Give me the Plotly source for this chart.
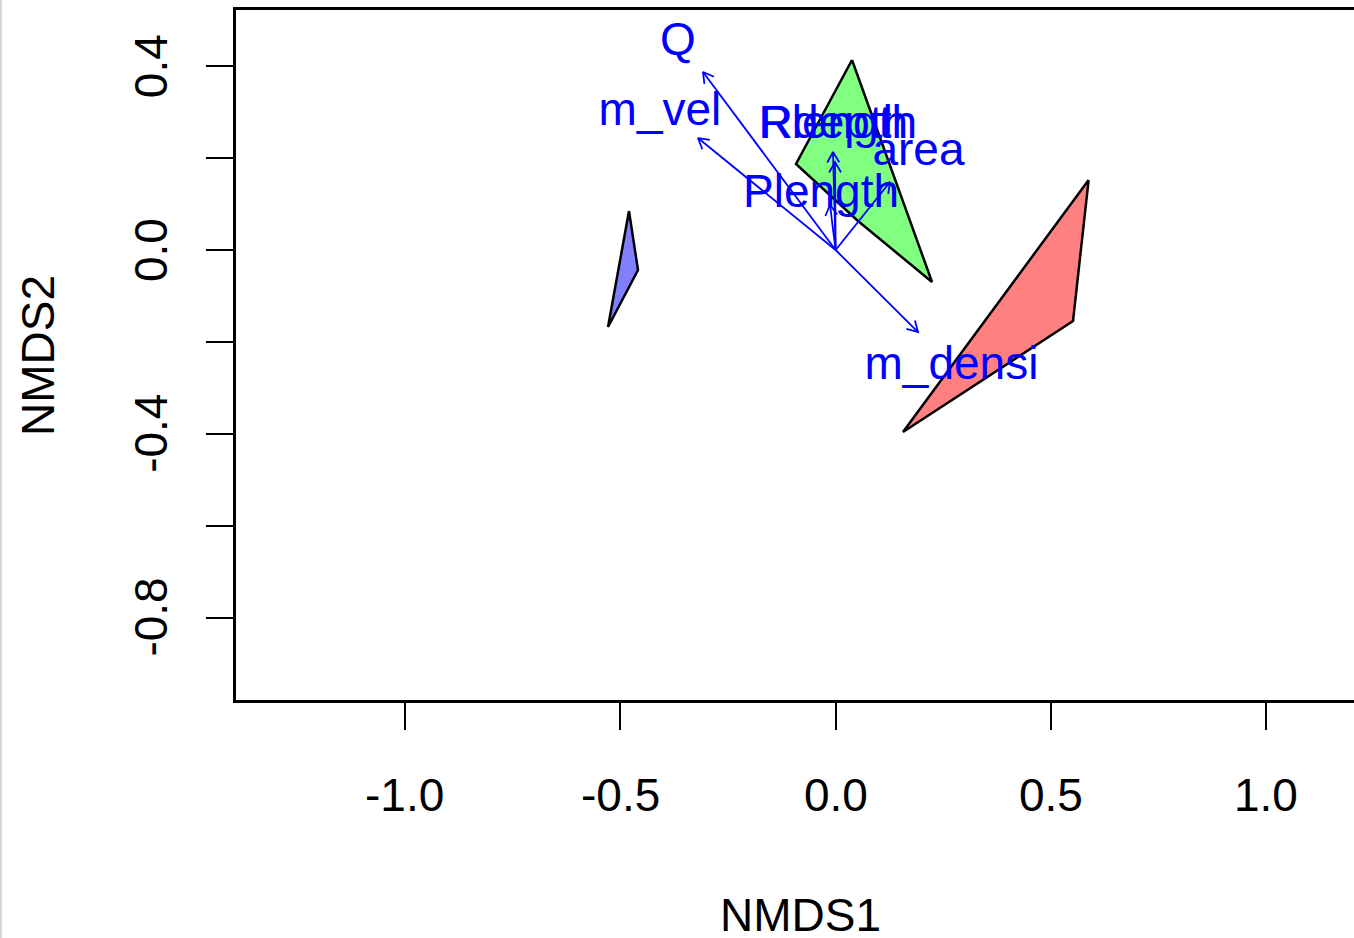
import math
import plotly.graph_objects as go

# ---------------- data ----------------
x_ticks = [-1.0, -0.5, 0.0, 0.5, 1.0]
x_tick_labels = ["-1.0", "-0.5", "0.0", "0.5", "1.0"]
y_ticks = [0.4, 0.2, 0.0, -0.2, -0.4, -0.6, -0.8]
y_tick_labels = ["0.4", "", "0.0", "", "-0.4", "", "-0.8"]

# group hulls (NMDS1, NMDS2)
hull_red_x = [0.5873, 0.5511, 0.1564]
hull_red_y = [0.1523, -0.1545, -0.3961]
hull_green_x = [0.0381, 0.2238, 0.0520, -0.0919]
hull_green_y = [0.4135, -0.0696, 0.0631, 0.1872]
hull_blue_x = [-0.4796, -0.4587, -0.5283]
hull_blue_y = [0.0849, -0.0435, -0.1676]

# fitted environmental vectors (arrow tips)
vec_names = ["Q", "m_vel", "m_densi", "area", "Rlength", "Rdepth", "Plength"]
vec_x = [-0.3078, -0.3194, 0.1913, 0.1263, -0.0060, -0.0014, -0.0130]
vec_y = [0.3874, 0.2437, -0.1785, 0.1480, 0.2133, 0.1915, 0.0980]
# label positions
lab_x = [-0.3658, -0.4077, 0.2690, 0.1924, 0.0051, -0.0037, -0.0339]
lab_y = [0.4504, 0.2969, -0.2558, 0.2099, 0.2697, 0.2697, 0.1196]

# ---------------- layout constants ----------------
W, H = 1354, 938
ML, MT, MB, MR = 236, 10, 238, 0
XR = [-1.3918, 1.2033]
YR = [-0.9793, 0.5223]
FONT = "Liberation Sans, Arial, sans-serif"
FS = 46

pw = W - ML - MR
ph = H - MT - MB
sx = pw / (XR[1] - XR[0])
sy = ph / (YR[1] - YR[0])

fig = go.Figure()

def add_hull(xs, ys, color):
    fig.add_trace(go.Scatter(
        x=xs + [xs[0]], y=ys + [ys[0]], mode="lines", fill="toself",
        fillcolor=color, line=dict(color="black", width=2.5),
        hoverinfo="skip", showlegend=False))

add_hull(hull_red_x, hull_red_y, "#FF8080")
add_hull(hull_green_x, hull_green_y, "#80FF80")
add_hull(hull_blue_x, hull_blue_y, "#8080FF")

# arrows: shaft + open head (barbs computed in pixel space)
ax_, ay_ = [], []
L = 12.0
a = math.radians(30)
for hx, hy in zip(vec_x, vec_y):
    ax_ += [0.0, hx, None]
    ay_ += [0.0, hy, None]
    th = math.atan2(hy * sy, hx * sx)
    b1x = hx - L * math.cos(th + a) / sx
    b1y = hy - L * math.sin(th + a) / sy
    b2x = hx - L * math.cos(th - a) / sx
    b2y = hy - L * math.sin(th - a) / sy
    ax_ += [b1x, hx, b2x, None]
    ay_ += [b1y, hy, b2y, None]

fig.add_trace(go.Scatter(x=ax_, y=ay_, mode="lines",
                         line=dict(color="#0000FF", width=1.8),
                         hoverinfo="skip", showlegend=False))

fig.add_trace(go.Scatter(x=lab_x, y=lab_y, mode="text", text=vec_names,
                         textposition="middle center",
                         textfont=dict(family=FONT, size=FS, color="#0000FF"),
                         hoverinfo="skip", showlegend=False, cliponaxis=False))

annotations = []
for v, t in zip(x_ticks, x_tick_labels):
    annotations.append(dict(x=v, xref="x", y=(700 - 794.5) / ph, yref="paper",
                            text=t, showarrow=False, xanchor="center", yanchor="middle",
                            font=dict(family=FONT, size=FS, color="black")))
for v, t in zip(y_ticks, y_tick_labels):
    if t:
        annotations.append(dict(x=(151 - ML) / pw, xref="paper", y=v, yref="y",
                                text=t, showarrow=False, textangle=-90,
                                xanchor="center", yanchor="middle",
                                font=dict(family=FONT, size=FS, color="black")))
annotations.append(dict(x=(800 - ML) / pw, xref="paper", y=(700 - 915) / ph, yref="paper",
                        text="NMDS1", showarrow=False, xanchor="center", yanchor="middle",
                        font=dict(family=FONT, size=FS, color="black")))
annotations.append(dict(x=(38 - ML) / pw, xref="paper", y=(700 - 356) / ph, yref="paper",
                        text="NMDS2", showarrow=False, textangle=-90,
                        xanchor="center", yanchor="middle",
                        font=dict(family=FONT, size=FS, color="black")))

fig.update_layout(
    width=W, height=H,
    margin=dict(l=ML, r=MR, t=MT, b=MB, pad=0),
    paper_bgcolor="white", plot_bgcolor="white",
    showlegend=False,
    annotations=annotations,
    shapes=[dict(type="line", xref="paper", yref="paper",
                 x0=(1 - ML) / pw, x1=(1 - ML) / pw,
                 y0=(700 - 938) / ph, y1=(700 - 0) / ph,
                 line=dict(color="#D8D8D8", width=2))],
    xaxis=dict(range=XR, showgrid=False, zeroline=False,
               showline=True, mirror=True, linecolor="black", linewidth=3,
               ticks="outside", ticklen=27, tickwidth=2, tickcolor="black",
               tickvals=x_ticks, showticklabels=False),
    yaxis=dict(range=YR, showgrid=False, zeroline=False,
               showline=True, mirror=False, linecolor="black", linewidth=3,
               ticks="outside", ticklen=27, tickwidth=2, tickcolor="black",
               tickvals=y_ticks, showticklabels=False),
)

fig.write_html("out.html")
